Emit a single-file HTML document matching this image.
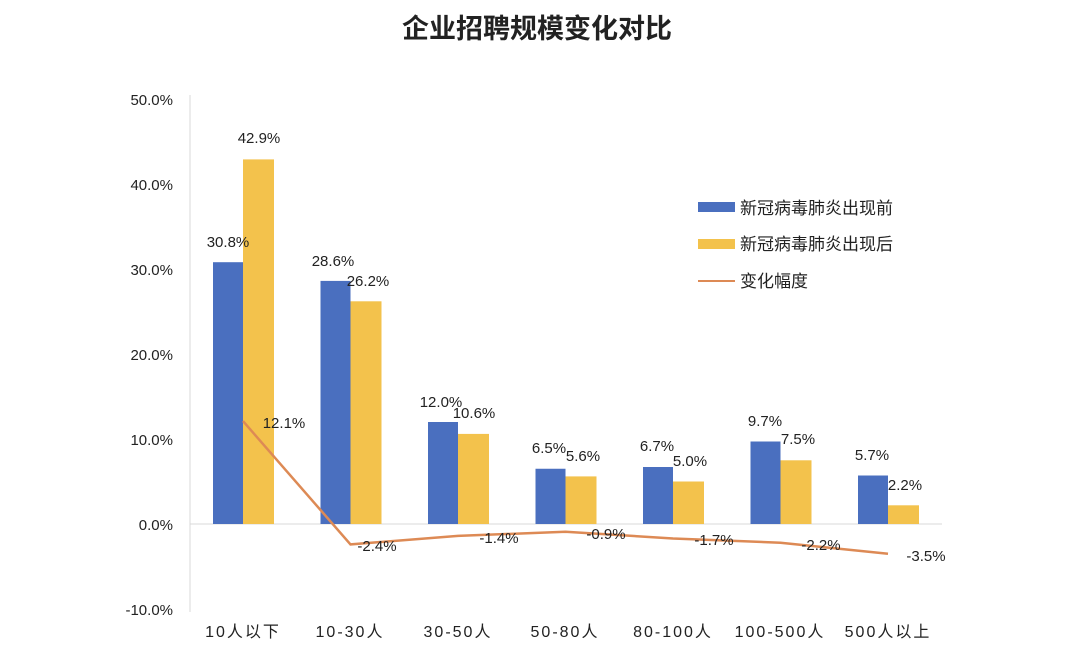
<!DOCTYPE html>
<html><head><meta charset="utf-8"><style>
html,body{margin:0;padding:0;background:#fff;}
svg text{font-family:"Liberation Sans","Noto Sans CJK SC",sans-serif;fill:#222;}
</style></head><body>
<svg width="1080" height="664" viewBox="0 0 1080 664" xmlns="http://www.w3.org/2000/svg">
<rect width="1080" height="664" fill="#fff"/>
<text x="537" y="38" text-anchor="middle" font-size="27" font-weight="bold" style="font-family:'Noto Sans CJK SC',sans-serif">企业招聘规模变化对比</text>
<!-- axes -->
<line x1="190" y1="95" x2="190" y2="612" stroke="#d9d9d9" stroke-width="1"/>
<line x1="190" y1="524" x2="942" y2="524" stroke="#d9d9d9" stroke-width="1"/>
<g font-size="15" text-anchor="end">
<text x="173" y="105">50.0%</text>
<text x="173" y="190">40.0%</text>
<text x="173" y="275">30.0%</text>
<text x="173" y="360">20.0%</text>
<text x="173" y="445">10.0%</text>
<text x="173" y="530">0.0%</text>
<text x="173" y="615">-10.0%</text>
</g>
<!-- bars blue -->
<g fill="#4a6fbf">
<rect x="213" y="262.2" width="30" height="261.8"/>
<rect x="320.5" y="280.9" width="30" height="243.1"/>
<rect x="428" y="422" width="30" height="102"/>
<rect x="535.5" y="468.75" width="30" height="55.25"/>
<rect x="643" y="467" width="30" height="57"/>
<rect x="750.5" y="441.5" width="30" height="82.5"/>
<rect x="858" y="475.5" width="30" height="48.5"/>
</g>
<g fill="#f3c24c">
<rect x="243" y="159.4" width="31" height="364.6"/>
<rect x="350.5" y="301.3" width="31" height="222.7"/>
<rect x="458" y="433.9" width="31" height="90.1"/>
<rect x="565.5" y="476.4" width="31" height="47.6"/>
<rect x="673" y="481.5" width="31" height="42.5"/>
<rect x="780.5" y="460.3" width="31" height="63.7"/>
<rect x="888" y="505.3" width="31" height="18.7"/>
</g>
<polyline points="243,421.1 350.5,544.4 458,535.9 565.5,531.7 673,538.5 780.5,542.7 888,553.8" fill="none" stroke="#dd8a55" stroke-width="2.5"/>
<g font-size="15" text-anchor="middle">
<text x="228" y="247">30.8%</text>
<text x="259" y="143">42.9%</text>
<text x="333" y="266">28.6%</text>
<text x="368" y="286">26.2%</text>
<text x="441" y="407">12.0%</text>
<text x="474" y="418">10.6%</text>
<text x="549" y="453">6.5%</text>
<text x="583" y="461">5.6%</text>
<text x="657" y="451">6.7%</text>
<text x="690" y="466">5.0%</text>
<text x="765" y="426">9.7%</text>
<text x="798" y="444">7.5%</text>
<text x="872" y="460">5.7%</text>
<text x="905" y="490">2.2%</text>
<text x="284" y="428">12.1%</text>
<text x="377" y="551">-2.4%</text>
<text x="499" y="543">-1.4%</text>
<text x="606" y="539">-0.9%</text>
<text x="714" y="545">-1.7%</text>
<text x="821" y="550">-2.2%</text>
<text x="926" y="561">-3.5%</text>
</g>
<g font-size="16" text-anchor="middle" letter-spacing="2">
<text x="243" y="637">10人以下</text>
<text x="350" y="637">10-30人</text>
<text x="458" y="637">30-50人</text>
<text x="565" y="637">50-80人</text>
<text x="673" y="637">80-100人</text>
<text x="780" y="637">100-500人</text>
<text x="888" y="637">500人以上</text>
</g>
<!-- legend -->
<rect x="698" y="202" width="37" height="10" fill="#4a6fbf"/>
<text x="740" y="214" font-size="17">新冠病毒肺炎出现前</text>
<rect x="698" y="239" width="37" height="10" fill="#f3c24c"/>
<text x="740" y="250" font-size="17">新冠病毒肺炎出现后</text>
<line x1="698" y1="281" x2="735" y2="281" stroke="#dd8a55" stroke-width="2"/>
<text x="740" y="287" font-size="17">变化幅度</text>
</svg>
</body></html>
